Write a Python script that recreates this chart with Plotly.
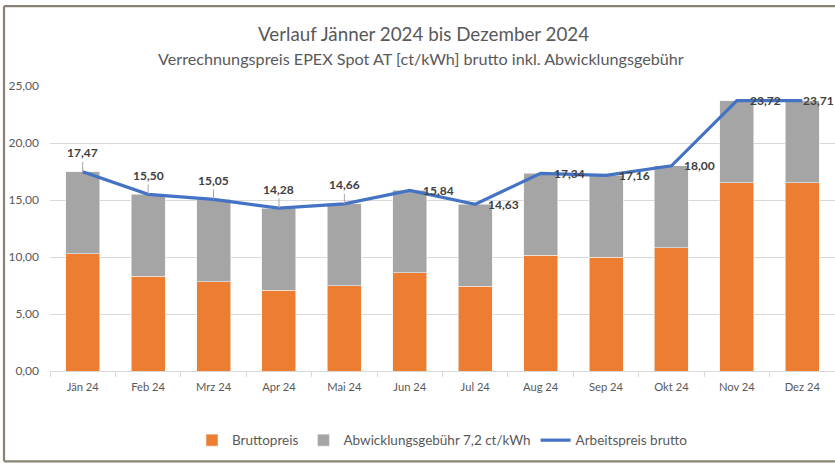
import plotly.graph_objects as go

months = ["Jän 24", "Feb 24", "Mrz 24", "Apr 24", "Mai 24", "Jun 24",
          "Jul 24", "Aug 24", "Sep 24", "Okt 24", "Nov 24", "Dez 24"]
bruttopreis = [10.27, 8.30, 7.85, 7.08, 7.46, 8.64, 7.43, 10.14, 9.96, 10.80, 16.52, 16.51]
gebuehr = [7.2, 7.2, 7.2, 7.2, 7.2, 7.2, 7.2, 7.2, 7.2, 7.2, 7.2, 7.2]
arbeitspreis = [17.47, 15.50, 15.05, 14.28, 14.66, 15.84, 14.63, 17.34, 17.16, 18.00, 23.72, 23.71]
label_above = [True, True, True, True, True, False, False, False, False, False, False, False]

FONT = "Lato"
fig = go.Figure()
fig.add_trace(go.Bar(x=months, y=bruttopreis, name="Bruttopreis",
                     marker=dict(color="#ED7D31", line=dict(color="#f2f2f2", width=0.6))))
fig.add_trace(go.Bar(x=months, y=gebuehr, name="Abwicklungsgebühr 7,2 ct/kWh",
                     marker=dict(color="#A5A5A5", line=dict(color="#f2f2f2", width=0.6))))
fig.add_trace(go.Scatter(x=months, y=arbeitspreis, name="Arbeitspreis brutto", mode="lines",
                         line=dict(color="#4472C4", width=3.2)))

annotations = []
n = len(months)
for i, (m, v, above) in enumerate(zip(months, arbeitspreis, label_above)):
    txt = f"{v:.2f}".replace(".", ",")
    if above:
        annotations.append(dict(x=m, y=v, text=f"<b>{txt}</b>", showarrow=True, arrowhead=0,
                                arrowwidth=1, arrowcolor="#a6a6a6", ax=0, ay=-19, standoff=0,
                                font=dict(family=FONT, size=12, color="#404040")))
    else:
        annotations.append(dict(x=m, y=v, text=f"<b>{txt}</b>", showarrow=False,
                                xanchor="left", yanchor="middle",
                                xshift=-1 if i == n - 1 else 11,
                                font=dict(family=FONT, size=12, color="#404040")))

annotations.append(dict(xref="paper", yref="paper", x=(423 - 50) / 785, y=(371.5 - 33) / 285.5,
                        text="Verlauf Jänner 2024 bis Dezember 2024", showarrow=False,
                        xanchor="center", yanchor="middle",
                        font=dict(family=FONT, size=18.8, color="#595959")))
annotations.append(dict(xref="paper", yref="paper", x=(421 - 50) / 785, y=(371.5 - 58) / 285.5,
                        text="Verrechnungspreis EPEX Spot AT [ct/kWh] brutto inkl. Abwicklungsgebühr",
                        showarrow=False, xanchor="center", yanchor="middle",
                        font=dict(family=FONT, size=16.2, color="#595959")))

shapes = [
    dict(type="line", xref="paper", yref="paper", x0=(4 - 50) / 785, x1=(4 - 50) / 785,
         y0=(371.5 - 462) / 285.5, y1=(371.5 - 6) / 285.5, line=dict(color="#8a8275", width=2.2)),
    dict(type="line", xref="paper", yref="paper", x0=(4 - 50) / 785, x1=(840 - 50) / 785,
         y0=(371.5 - 6) / 285.5, y1=(371.5 - 6) / 285.5, line=dict(color="#8a8275", width=2.2)),
    dict(type="line", xref="paper", yref="paper", x0=(4 - 50) / 785, x1=(840 - 50) / 785,
         y0=(371.5 - 462) / 285.5, y1=(371.5 - 462) / 285.5, line=dict(color="#8a8275", width=2.2)),
]

fig.update_layout(
    width=835, height=464, barmode="stack", bargap=0.48,
    margin=dict(l=50, r=0, t=86, b=92.5, autoexpand=False),
    paper_bgcolor="white", plot_bgcolor="white",
    separators=",.",
    font=dict(family=FONT, size=12, color="#595959"),
    showlegend=True,
    legend=dict(orientation="h", x=0.5, xanchor="center", y=(371.5 - 441) / 285.5, yanchor="middle",
                font=dict(family=FONT, size=13.5, color="#595959"), traceorder="normal",
                itemwidth=30),
    annotations=annotations, shapes=shapes,
    xaxis=dict(showline=True, linecolor="#d9d9d9", linewidth=1, ticks="outside", ticklen=5,
               tickcolor="#d9d9d9", tickson="boundaries", showgrid=False, automargin=False,
               ticklabelstandoff=6, range=[-0.5, len(months) - 0.5],
               tickfont=dict(family=FONT, size=11.2, color="#595959")),
    yaxis=dict(range=[0, 25], dtick=5, tickformat=".2f", showgrid=True, gridcolor="#d9d9d9",
               gridwidth=1, zeroline=False, showline=False, ticklabelstandoff=10, automargin=False,
               tickfont=dict(family=FONT, size=12, color="#595959")),
)
fig.write_html("out.html", config={"displayModeBar": False},
               post_script="document.body.style.margin='0';document.body.style.overflow='hidden';")
